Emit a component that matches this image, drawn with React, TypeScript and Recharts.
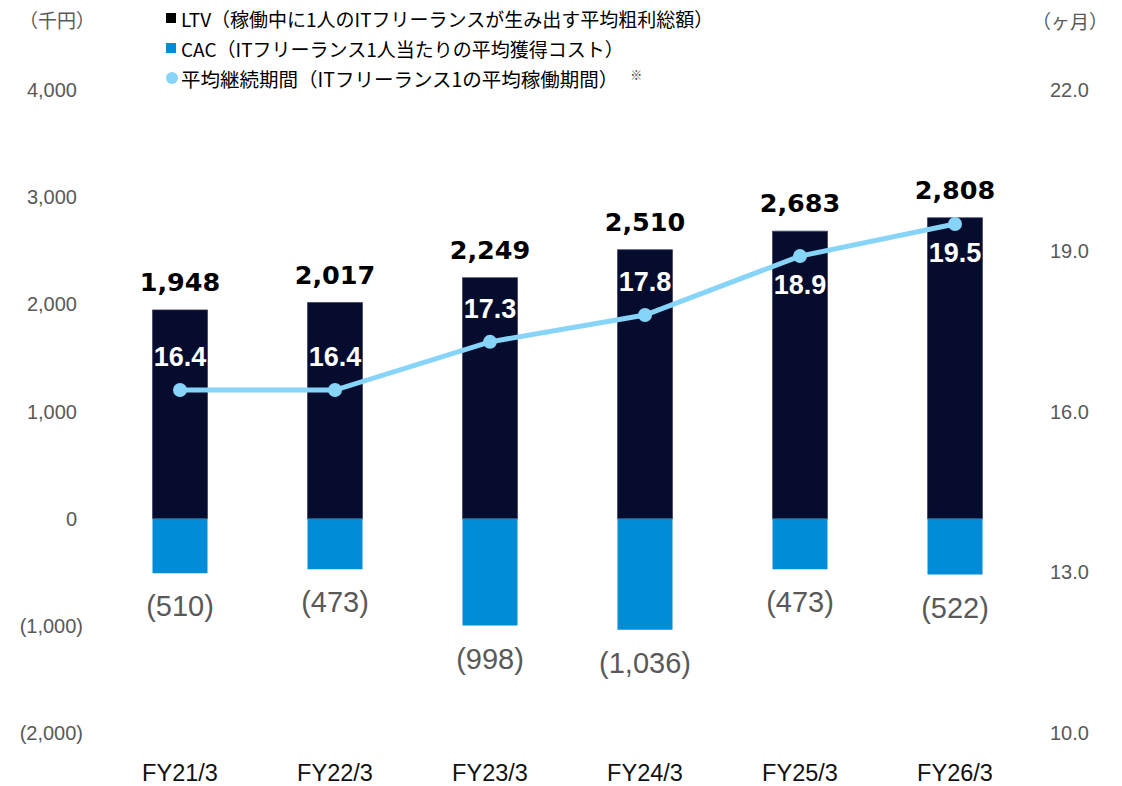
import React from 'react';
import { ComposedChart, Bar, Line, XAxis, YAxis, LabelList } from 'recharts';

const categories = ['FY21/3', 'FY22/3', 'FY23/3', 'FY24/3', 'FY25/3', 'FY26/3'];
const ltv = [1948, 2017, 2249, 2510, 2683, 2808];
const cac = [510, 473, 998, 1036, 473, 522];
const months = [16.4, 16.4, 17.3, 17.8, 18.9, 19.5];
const leftTicks = [-2000, -1000, 0, 1000, 2000, 3000, 4000];
const rightTicks = [10, 13, 16, 19, 22];

const legendLabels = [
  'LTV（稼働中に1人のITフリーランスが生み出す平均粗利総額）',
  'CAC（ITフリーランス1人当たりの平均獲得コスト）',
  '平均継続期間（ITフリーランス1の平均稼働期間）',
];
const leftUnit = '（千円）';
const rightUnit = '（ヶ月）';

const data = categories.map((c, i) => ({ name: c, ltv: ltv[i], cac: -cac[i], months: months[i] }));

const NUM_FONT = '"Liberation Sans", Arial, sans-serif';
const JP_FONT = '"Noto Sans CJK JP", "Noto Sans", sans-serif';
const LTV_COLOR = '#060C2D';
const CAC_COLOR = '#008CD6';
const LINE_COLOR = '#87D4F9';
const GRAY = '#595959';

const fmt = (v: number) => Math.abs(v).toLocaleString('en-US');

const LeftTick = (props: any) => {
  const v = props.payload.value as number;
  const neg = v < 0;
  return (
    <text x={83} y={props.y} dx={neg ? 0 : -6} textAnchor="end" dominantBaseline="central"
      fontFamily={NUM_FONT} fontSize={20} fill={GRAY}>
      {neg ? `(${fmt(v)})` : fmt(v)}
    </text>
  );
};

const RightTick = (props: any) => {
  const v = props.payload.value as number;
  return (
    <text x={1050} y={props.y} textAnchor="start" dominantBaseline="central"
      fontFamily={NUM_FONT} fontSize={20} fill={GRAY}>
      {v.toFixed(1)}
    </text>
  );
};

const XTick = (props: any) => (
  <text x={props.x} y={773} textAnchor="middle" dominantBaseline="central"
    fontFamily={NUM_FONT} fontSize={23.5} fill="#111">
    {props.payload.value}
  </text>
);

const LtvLabel = (props: any) => {
  const { x, y, width, height, value } = props;
  const top = Math.min(y, y + height);
  return (
    <text x={x + width / 2} y={top - 28} textAnchor="middle" dominantBaseline="central"
      fontFamily='"DejaVu Sans", Verdana, sans-serif' fontWeight="bold" fontSize={25.5} fill="#000">
      {fmt(value)}
    </text>
  );
};

const CacLabel = (props: any) => {
  const { x, y, width, height, value } = props;
  const bottom = Math.max(y, y + height);
  return (
    <text x={x + width / 2} y={bottom + 33} textAnchor="middle" dominantBaseline="central"
      fontFamily={NUM_FONT} fontSize={29} fill={GRAY}>
      {`(${fmt(value)})`}
    </text>
  );
};

const MonthLabel = (props: any) => {
  const { x, y, value, index } = props;
  const below = index >= 4;
  return (
    <text x={x} y={below ? y + 29 : y - 33} textAnchor="middle" dominantBaseline="central"
      fontFamily={NUM_FONT} fontWeight="bold" fontSize={27} fill="#fff">
      {Number(value).toFixed(1)}
    </text>
  );
};

export default function App() {
  return (
    <div style={{ position: 'absolute', left: 0, top: 0, width: 1122, height: 786, background: '#fff' }}>
      <ComposedChart width={1122} height={786} data={data} stackOffset="sign"
        margin={{ top: 90, right: 0, bottom: 0, left: 0 }}>
        <XAxis dataKey="name" height={53} axisLine={false} tickLine={false} tick={<XTick />} interval={0} />
        <YAxis yAxisId="left" width={102.5} domain={[-2000, 4000]} ticks={leftTicks}
          axisLine={false} tickLine={false} tick={<LeftTick />} interval={0} />
        <YAxis yAxisId="right" orientation="right" width={89.5} domain={[10, 22]} ticks={rightTicks}
          axisLine={false} tickLine={false} tick={<RightTick />} interval={0} />
        <Bar yAxisId="left" dataKey="ltv" stackId="a" fill={LTV_COLOR} barSize={55}
          stroke="#3c4160" strokeWidth={0.75} isAnimationActive={false}>
          <LabelList dataKey="ltv" content={<LtvLabel />} />
        </Bar>
        <Bar yAxisId="left" dataKey="cac" stackId="a" fill={CAC_COLOR} barSize={55} isAnimationActive={false}>
          <LabelList dataKey="cac" content={<CacLabel />} />
        </Bar>
        <Line yAxisId="right" dataKey="months" stroke={LINE_COLOR} strokeWidth={5}
          dot={{ r: 7, fill: LINE_COLOR, stroke: 'none' }} activeDot={false} isAnimationActive={false}>
          <LabelList dataKey="months" content={<MonthLabel />} />
        </Line>
      </ComposedChart>
      <svg width={1122} height={786} style={{ position: 'absolute', left: 0, top: 0, pointerEvents: 'none' }}>
        <text x={57} y={19} textAnchor="middle" dominantBaseline="central" fontFamily={JP_FONT} fontSize={19} fill={GRAY}>{leftUnit}</text>
        <text x={1070} y={20} textAnchor="middle" dominantBaseline="central" fontFamily={JP_FONT} fontSize={19} fill={GRAY}>{rightUnit}</text>
        <rect x={166} y={13} width={10} height={10} fill="#000" />
        <text x={181} y={18} dominantBaseline="central" fontFamily={JP_FONT} fontSize={19} fill="#000">{legendLabels[0]}</text>
        <rect x={166} y={43} width={10} height={10} fill={CAC_COLOR} />
        <text x={181} y={48} dominantBaseline="central" fontFamily={JP_FONT} fontSize={19} fill="#000">{legendLabels[1]}</text>
        <circle cx={172} cy={78} r={6} fill={LINE_COLOR} />
        <text x={181} y={78} dominantBaseline="central" fontFamily={JP_FONT} fontSize={19.5} fill="#000">
          {legendLabels[2]}
          <tspan dx={12} dy={-4} fontSize={12} fill="#333">※</tspan>
        </text>
      </svg>
    </div>
  );
}
